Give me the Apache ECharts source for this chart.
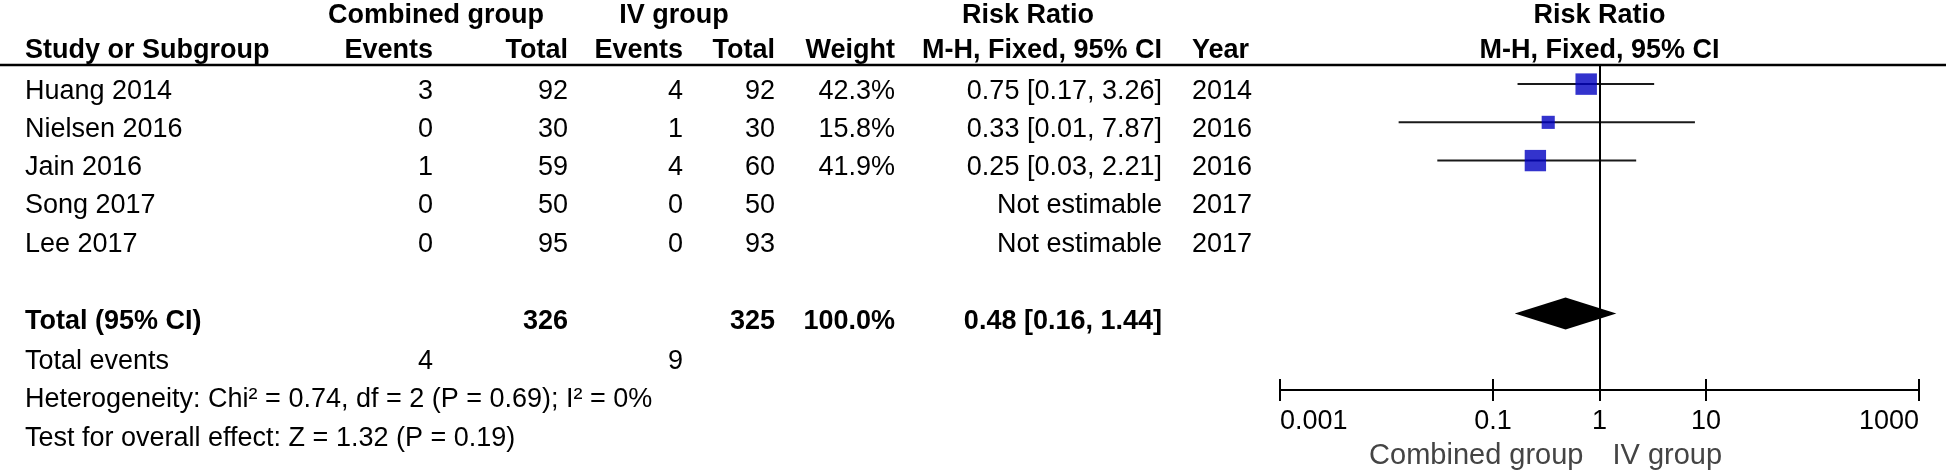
<!DOCTYPE html>
<html>
<head>
<meta charset="utf-8">
<script src="https://cdn.jsdelivr.net/npm/echarts@6/dist/echarts.min.js"></script>
<style>
html,body{margin:0;padding:0;background:#fff;}
#c{width:1946px;height:471px;}
</style>
</head>
<body>
<div id="c"></div>
<script>
// ---------------- DATA ----------------
const studies = ['Huang 2014', 'Nielsen 2016', 'Jain 2016', 'Song 2017', 'Lee 2017'];
const eventsCombined = [3, 0, 1, 0, 0];
const totalCombined = [92, 30, 59, 50, 95];
const eventsIV = [4, 1, 4, 0, 0];
const totalIV = [92, 30, 60, 50, 93];
const weights = [42.3, 15.8, 41.9, null, null];
const riskRatio = [0.75, 0.33, 0.25, null, null];
const ciLower = [0.17, 0.013, 0.03, null, null];
const ciUpper = [3.26, 7.87, 2.21, null, null];
const years = [2014, 2016, 2016, 2017, 2017];

const pooledTotalCombined = 326;
const pooledTotalIV = 325;
const pooledWeight = 100.0;
const pooledRR = 0.48;
const pooledLower = 0.16;
const pooledUpper = 1.44;
const totalEventsCombined = 4;
const totalEventsIV = 9;
const heterogeneityText = 'Heterogeneity: Chi\u00B2 = 0.74, df = 2 (P = 0.69); I\u00B2 = 0%';
const overallEffectText = 'Test for overall effect: Z = 1.32 (P = 0.19)';

const axisTickValues = [0.001, 0.1, 1, 10, 1000];
const axisMin = 0.001, axisMax = 1000;
const favoursLeft = 'Combined group';
const favoursRight = 'IV group';

// ---------------- LAYOUT / STYLE ----------------
const FONT = "'Liberation Sans', Arial, sans-serif";
const FS = 27;
const TOTAL_ROW = 6;
const TEXT_DY = 7;

const chart = echarts.init(document.getElementById('c'), null, {renderer: 'canvas'});

const tickExp = axisTickValues.map(v => Math.log10(v));
const fmtTick = v => String(parseFloat(Math.pow(10, v).toPrecision(6)));

const ciData = [];
const boxData = [];
riskRatio.forEach((rr, i) => {
  if (rr == null) return;
  ciData.push([ciLower[i], ciUpper[i], i]);
  boxData.push([rr, i, weights[i]]);
});

const option = {
  animation: false,
  backgroundColor: '#fff',
  grid: {left: 1280, right: 27, top: 65, bottom: 81, containLabel: false},
  xAxis: [
    {type: 'log', logBase: 10, min: axisMin, max: axisMax, position: 'bottom',
     axisLine: {onZero: false, lineStyle: {color: '#000', width: 2}},
     axisTick: {show: false}, axisLabel: {show: false}, splitLine: {show: false}},
    {type: 'value', min: Math.log10(axisMin), max: Math.log10(axisMax), position: 'bottom',
     axisLine: {show: false, onZero: false},
     axisTick: {show: true, length: 11, lineStyle: {color: '#000', width: 2}, customValues: tickExp},
     axisLabel: {show: true, customValues: tickExp, formatter: fmtTick, fontSize: FS, fontFamily: FONT,
                 color: '#000', margin: 18, alignMinLabel: 'left', alignMaxLabel: 'right'},
     splitLine: {show: false}},
    {type: 'value', min: Math.log10(axisMin), max: Math.log10(axisMax), position: 'bottom',
     axisLine: {show: false, onZero: false},
     axisTick: {show: true, inside: true, length: 11, lineStyle: {color: '#000', width: 2}, customValues: tickExp},
     axisLabel: {show: false}, splitLine: {show: false}}
  ],
  yAxis: {type: 'value', inverse: true, min: -0.5, max: 8, show: false},
  series: [
    {
      type: 'custom', name: 'ci', xAxisIndex: 0, yAxisIndex: 0, silent: true, z: 2,
      data: ciData, encode: {x: [0, 1], y: 2},
      renderItem: (params, api) => {
        const p1 = api.coord([api.value(0), api.value(2)]);
        const p2 = api.coord([api.value(1), api.value(2)]);
        return {type: 'line', shape: {x1: p1[0], y1: p1[1], x2: p2[0], y2: p2[1]},
                style: {stroke: '#1a1a1a', lineWidth: 2}};
      }
    },
    {
      type: 'scatter', name: 'rr', xAxisIndex: 0, yAxisIndex: 0, silent: true, z: 3,
      data: boxData, symbol: 'rect',
      symbolSize: v => 3.3 * Math.sqrt(v[2]),
      itemStyle: {color: '#0000C0'},
      markLine: {silent: true, symbol: ['none', 'none'], label: {show: false},
                 lineStyle: {color: '#000', width: 2, type: 'solid'},
                 data: [{xAxis: 1}]}
    },
    {
      type: 'custom', name: 'pooled', xAxisIndex: 0, yAxisIndex: 0, silent: true, z: 3,
      data: [[pooledLower, pooledRR, pooledUpper, TOTAL_ROW]], encode: {x: [0, 1, 2], y: 3},
      renderItem: (params, api) => {
        const r = api.value(3);
        const a = api.coord([api.value(0), r]);
        const m = api.coord([api.value(1), r]);
        const b = api.coord([api.value(2), r]);
        const h = 16;
        return {type: 'polygon', shape: {points: [[a[0], a[1]], [m[0], m[1] - h], [b[0], b[1]], [m[0], m[1] + h]]},
                style: {fill: '#000'}};
      }
    }
  ]
};
chart.setOption(option);

// ---------------- TABLE TEXT ----------------
const rowY = i => chart.convertToPixel({xAxisIndex: 0, yAxisIndex: 0}, [1, i])[1] + TEXT_DY;
const oneX = chart.convertToPixel({xAxisIndex: 0, yAxisIndex: 0}, [1, 0])[0];
const gridTop = chart.convertToPixel({xAxisIndex: 0, yAxisIndex: 0}, [1, -0.5])[1];
const axisY = chart.convertToPixel({xAxisIndex: 0, yAxisIndex: 0}, [1, 8])[1];

const col = {study: 25, evC: 433, totC: 568, evIV: 683, totIV: 775, weight: 895, ci: 1162, year: 1192};

const g = [];
function txt(text, x, y, align, bold, opts) {
  opts = opts || {};
  g.push({type: 'text', x: x, y: y, silent: true, z: 10,
          style: {text: String(text), align: align, verticalAlign: 'middle',
                  fontFamily: FONT, fontSize: opts.fs || FS, fontWeight: bold ? 'bold' : 'normal',
                  fill: opts.color || '#000'}});
}
const fmtCI = (rr, lo, hi) => rr.toFixed(2) + ' [' + lo.toFixed(2) + ', ' + hi.toFixed(2) + ']';

// headers
const H1 = 16, H2 = 51;
txt('Combined group', 436, H1, 'center', true);
txt('IV group', 674, H1, 'center', true);
txt('Risk Ratio', 1028, H1, 'center', true);
txt('Risk Ratio', oneX, H1, 'center', true);
txt('Study or Subgroup', col.study, H2, 'left', true);
txt('Events', col.evC, H2, 'right', true);
txt('Total', col.totC, H2, 'right', true);
txt('Events', col.evIV, H2, 'right', true);
txt('Total', col.totIV, H2, 'right', true);
txt('Weight', col.weight, H2, 'right', true);
txt('M-H, Fixed, 95% CI', col.ci, H2, 'right', true);
txt('Year', col.year, H2, 'left', true);
txt('M-H, Fixed, 95% CI', oneX, H2, 'center', true);

g.push({type: 'line', silent: true, z: 10,
        shape: {x1: 0, y1: gridTop, x2: 1946, y2: gridTop},
        style: {stroke: '#000', lineWidth: 2.5}});

studies.forEach((s, i) => {
  const y = rowY(i);
  txt(s, col.study, y, 'left');
  txt(eventsCombined[i], col.evC, y, 'right');
  txt(totalCombined[i], col.totC, y, 'right');
  txt(eventsIV[i], col.evIV, y, 'right');
  txt(totalIV[i], col.totIV, y, 'right');
  if (weights[i] != null) txt(weights[i].toFixed(1) + '%', col.weight, y, 'right');
  txt(riskRatio[i] != null ? fmtCI(riskRatio[i], ciLower[i], ciUpper[i]) : 'Not estimable', col.ci, y, 'right');
  txt(years[i], col.year, y, 'left');
});

const yt = rowY(TOTAL_ROW) + 1;
txt('Total (95% CI)', col.study, yt, 'left', true);
txt(pooledTotalCombined, col.totC, yt, 'right', true);
txt(pooledTotalIV, col.totIV, yt, 'right', true);
txt(pooledWeight.toFixed(1) + '%', col.weight, yt, 'right', true);
txt(fmtCI(pooledRR, pooledLower, pooledUpper), col.ci, yt, 'right', true);

const ye = rowY(TOTAL_ROW + 1) + 3;
txt('Total events', col.study, ye, 'left');
txt(totalEventsCombined, col.evC, ye, 'right');
txt(totalEventsIV, col.evIV, ye, 'right');
txt(heterogeneityText, col.study, rowY(TOTAL_ROW + 2) + 3, 'left');
txt(overallEffectText, col.study, rowY(TOTAL_ROW + 3) + 3, 'left');

txt(favoursLeft, oneX - 16, axisY + 66, 'right', false, {color: '#444', fs: 29});
txt(favoursRight, oneX + 13, axisY + 66, 'left', false, {color: '#444', fs: 29});

chart.setOption({graphic: {elements: g}});
</script>
</body>
</html>
